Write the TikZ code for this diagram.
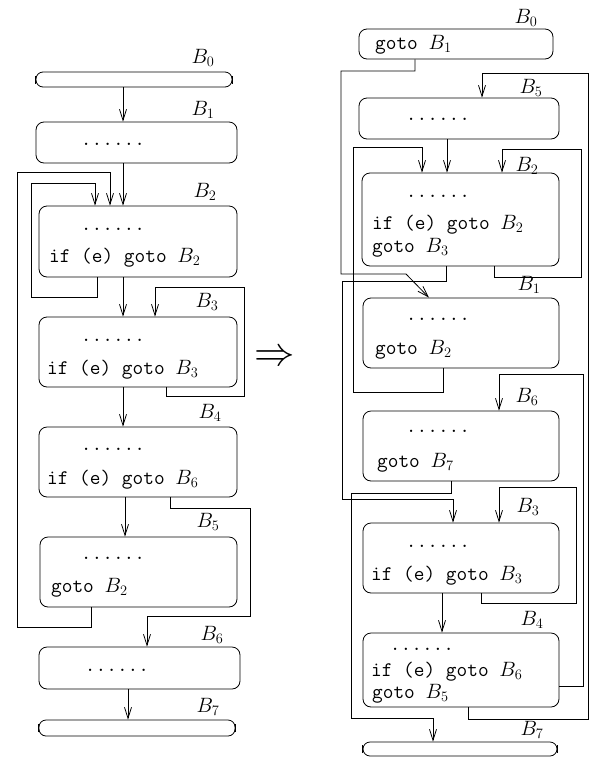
\documentclass[tikz,border=0pt]{standalone}
\usetikzlibrary{arrows.meta}
\begin{document}
\begin{tikzpicture}[x=1pt,y=-1pt,
  blk/.style={draw, line width=0.8pt, rounded corners=8pt, inner sep=0pt},
  term/.style={draw, line width=0.8pt, rounded corners=7pt, inner sep=0pt},
  arr/.style={line width=0.8pt, -{Straight Barb[length=11pt,width=7pt]}},
  ln/.style={line width=0.8pt},
  lbl/.style={font=\fontsize{20.74}{24}\selectfont, inner sep=0pt},
  code/.style={font=\fontsize{20.74}{24}\selectfont\ttfamily, inner sep=0pt, anchor=west},
  dts/.style={font=\fontsize{20.74}{24}\selectfont\ttfamily, inner sep=0pt, anchor=base}]
\useasboundingbox (0,0) rectangle (589,761);

% ---------------- left diagram ----------------
\node[term, minimum width=196pt, minimum height=15pt] (LB0) at (134,79.5) {};
\node[blk, minimum width=201pt, minimum height=41pt] (LB1) at (136.5,142.5) {};
\node[blk, minimum width=198pt, minimum height=71pt] (LB2) at (138,241.5) {};
\node[blk, minimum width=198pt, minimum height=70pt] (LB3) at (138,352) {};
\node[blk, minimum width=198pt, minimum height=70pt] (LB4) at (138,462) {};
\node[blk, minimum width=197pt, minimum height=70pt] (LB5) at (138.5,572) {};
\node[blk, minimum width=201pt, minimum height=42pt] (LB6) at (139.5,668) {};
\node[term, minimum width=196pt, minimum height=16pt] (LB7) at (137,728) {};
\draw[ln] ([yshift=-4pt]LB0.west) -- ([yshift=4pt]LB0.west);
\draw[ln] ([yshift=-4pt]LB0.east) -- ([yshift=4pt]LB0.east);
\draw[ln] ([yshift=-4pt]LB7.west) -- ([yshift=4pt]LB7.west);
\draw[ln] ([yshift=-4pt]LB7.east) -- ([yshift=4pt]LB7.east);

\node[lbl] (lL0) at (203,58) {$B_0$};
\node[lbl] (lL1) at (203,110) {$B_1$};
\node[lbl] (lL2) at (205,192) {$B_2$};
\node[lbl] (lL3) at (207,302) {$B_3$};
\node[lbl] (lL4) at (210,413) {$B_4$};
\node[lbl] (lL5) at (208,522) {$B_5$};
\node[lbl] (lL6) at (212,635) {$B_6$};
\node[lbl] (lL7) at (208,707) {$B_7$};

\node[dts] (dL1) at (113,145) {......};
\node[dts] (dL2) at (113,230) {......};
\node[code] (cL2) at (49,258) {if (e) goto $B_2$};
\node[dts] (dL3) at (113,341) {......};
\node[code] (cL3) at (47,370) {if (e) goto $B_3$};
\node[dts] (dL4) at (113,450) {......};
\node[code] (cL4) at (47,480) {if (e) goto $B_6$};
\node[dts] (dL5) at (113,559) {......};
\node[code] (cL5) at (51,588) {goto $B_2$};
\node[dts] (dL6) at (117,671) {......};

\draw[arr] (123,0 |- LB0.south) -- (123,0 |- LB1.north);
\draw[arr] (123,0 |- LB1.south) -- (123,0 |- LB2.north);
\draw[arr] (91,0 |- LB5.south) -- (91,627) -- (17,627) -- (17,172) -- (110,172) -- (110,0 |- LB2.north);
\draw[arr] (97,0 |- LB2.south) -- (97,297) -- (31,297) -- (31,183) -- (95,183) -- (95,0 |- LB2.north);
\draw[arr] (123,0 |- LB2.south) -- (123,0 |- LB3.north);
\draw[arr] (166,0 |- LB3.south) -- (166,396) -- (244,396) -- (244,287) -- (155,287) -- (155,0 |- LB3.north);
\draw[arr] (123,0 |- LB3.south) -- (123,0 |- LB4.north);
\draw[arr] (125,0 |- LB4.south) -- (125,0 |- LB5.north);
\draw[arr] (170,0 |- LB4.south) -- (170,508) -- (250,508) -- (250,616) -- (147,616) -- (147,0 |- LB6.north);
\draw[arr] (128,0 |- LB6.south) -- (128,0 |- LB7.north);

% implies
\node[inner sep=0pt, font=\fontsize{20.74}{24}\selectfont] (imp) at (275,358) {\scalebox{1.95}{$\Rightarrow$}};

% ---------------- right diagram ----------------
\node[blk, minimum width=194pt, minimum height=30pt] (RB0) at (456,44) {};
\node[blk, minimum width=200pt, minimum height=41pt] (RB5) at (459,118.5) {};
\node[blk, minimum width=197pt, minimum height=93pt] (RB2) at (460.5,219.5) {};
\node[blk, minimum width=196pt, minimum height=70pt] (RB1) at (461,333) {};
\node[blk, minimum width=196pt, minimum height=70pt] (RB6) at (461,446) {};
\node[blk, minimum width=196pt, minimum height=70pt] (RB3) at (461,558) {};
\node[blk, minimum width=196pt, minimum height=74pt] (RB4) at (461,670) {};
\node[term, minimum width=194pt, minimum height=14pt] (RB7) at (460,749) {};
\draw[ln] ([yshift=-4pt]RB7.west) -- ([yshift=4pt]RB7.west);
\draw[ln] ([yshift=-4pt]RB7.east) -- ([yshift=4pt]RB7.east);

\node[lbl] (lR0) at (526,18) {$B_0$};
\node[lbl] (lR5) at (531,88) {$B_5$};
\node[lbl] (lR2) at (527,166) {$B_2$};
\node[lbl] (lR1) at (529,285) {$B_1$};
\node[lbl] (lR6) at (527,397) {$B_6$};
\node[lbl] (lR3) at (528,507) {$B_3$};
\node[lbl] (lR4) at (532,620) {$B_4$};
\node[lbl] (lR7) at (532,730) {$B_7$};

\node[code] (cR0) at (375,45) {goto $B_1$};
\node[dts] (dR5) at (438,120) {......};
\node[dts] (dR2) at (438,197) {......};
\node[code] (cR2a) at (372,225) {if (e) goto $B_2$};
\node[code] (cR2b) at (372,248) {goto $B_3$};
\node[dts] (dR1) at (438,320) {......};
\node[code] (cR1) at (375,350) {goto $B_2$};
\node[dts] (dR6) at (438,432) {......};
\node[code] (cR6) at (377,463) {goto $B_7$};
\node[dts] (dR3) at (438,547) {......};
\node[code] (cR3) at (371,576) {if (e) goto $B_3$};
\node[dts] (dR4) at (422,650) {......};
\node[code] (cR4a) at (371,672) {if (e) goto $B_6$};
\node[code] (cR4b) at (372,694) {goto $B_5$};

\draw[arr] (415,0 |- RB0.south) -- (415,71) -- (341,71) -- (341,274) -- (406,274) -- (429,0 |- RB1.north);
\draw[arr] (468,0 |- RB4.south) -- (468,719) -- (588,719) -- (588,73) -- (482,73) -- (482,0 |- RB5.north);
\draw[arr] (447,0 |- RB5.south) -- (447,0 |- RB2.north);
\draw[arr] (443,0 |- RB1.south) -- (443,392) -- (353,392) -- (353,147) -- (422,147) -- (422,0 |- RB2.north);
\draw[arr] (494,0 |- RB2.south) -- (494,277) -- (581,277) -- (581,149) -- (502,149) -- (502,0 |- RB2.north);
\draw[arr] (446,0 |- RB2.south) -- (446,281) -- (342,281) -- (342,499) -- (453,499) -- (453,0 |- RB3.north);
\draw[arr] (RB4.east |- 0,686) -- (583,686) -- (583,374) -- (499,374) -- (499,0 |- RB6.north);
\draw[arr] (451,0 |- RB6.south) -- (451,493) -- (351,493) -- (351,718) -- (433,718) -- (433,0 |- RB7.north);
\draw[arr] (481,0 |- RB3.south) -- (481,603) -- (576,603) -- (576,487) -- (499,487) -- (499,0 |- RB3.north);
\draw[arr] (442,0 |- RB3.south) -- (442,0 |- RB4.north);
\end{tikzpicture}
\end{document}
